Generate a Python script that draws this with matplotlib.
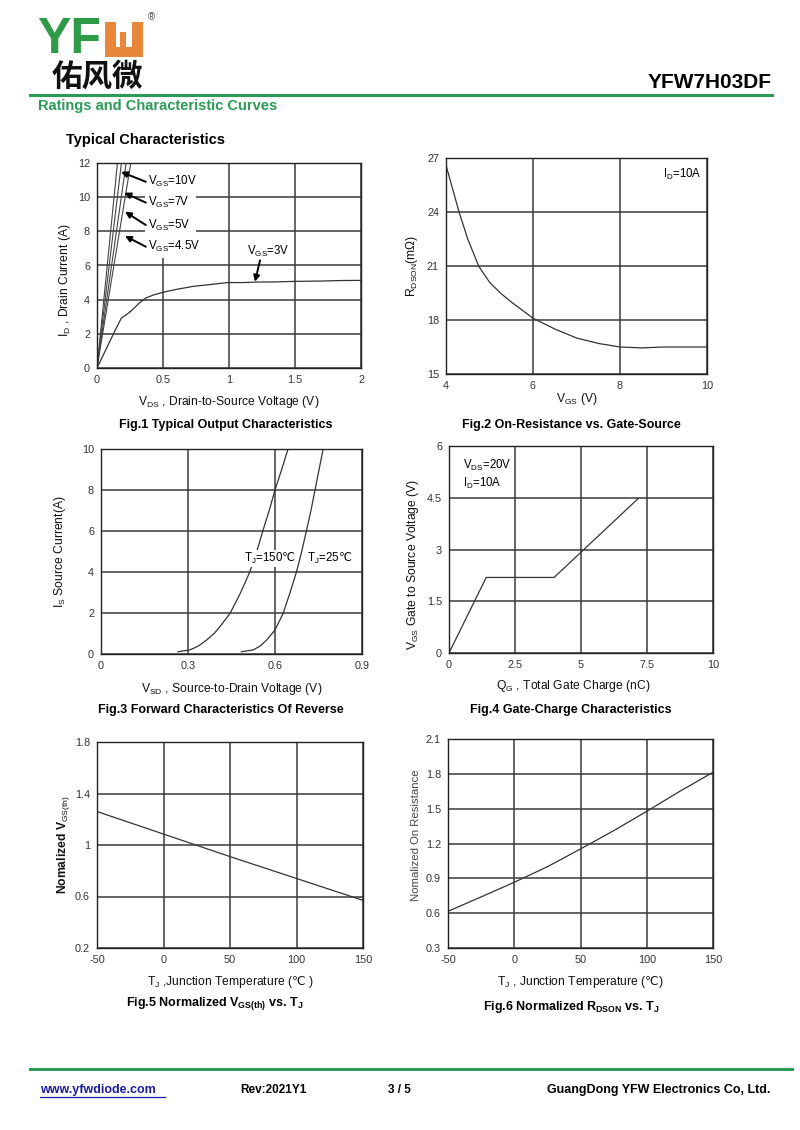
import numpy as np
import matplotlib
matplotlib.use('Agg')
from matplotlib import pyplot as plt
from matplotlib.patches import Rectangle
from matplotlib.lines import Line2D

plt.rcParams['font.family'] = ['Liberation Sans', 'DejaVu Sans']
plt.rcParams['mathtext.fontset'] = 'custom'
plt.rcParams['mathtext.rm'] = 'Liberation Sans'
plt.rcParams['mathtext.it'] = 'Liberation Sans:italic'
plt.rcParams['mathtext.bf'] = 'Liberation Sans:bold'
plt.rcParams['mathtext.sf'] = 'DejaVu Sans'   # only used for the ℃ sign
plt.rcParams['axes.unicode_minus'] = False

# ---- data ----
# Fig.1 output characteristics
vgs_lines = ['10V', '7V', '5V', '4.5V']
vds_steep_end = [0.155, 0.185, 0.221, 0.256]   # VDS where each steep line hits 12 A
id_steep = [0, 12]
vds_3v = [0, 0.05, 0.1, 0.15, 0.185, 0.22, 0.26, 0.32, 0.37, 0.43, 0.5, 0.6, 0.73, 0.85, 0.99, 1.1, 1.21, 1.35, 1.49, 1.7, 1.85, 2.0]
id_3v = [0, 0.8, 1.6, 2.4, 2.93, 3.1, 3.35, 3.8, 4.1, 4.28, 4.43, 4.6, 4.78, 4.88, 5.0, 5.0, 5.03, 5.04, 5.07, 5.09, 5.12, 5.13]

# Fig.2 RDSON vs VGS
vgs_r = [4.0, 4.15, 4.3, 4.5, 4.75, 5.0, 5.25, 5.5, 6.0, 6.5, 7.0, 7.5, 8.0, 8.5, 9.0, 10.0]
rdson = [26.6, 25.3, 24.0, 22.5, 21.0, 20.1, 19.5, 19.0, 18.1, 17.5, 17.0, 16.7, 16.5, 16.45, 16.5, 16.5]

# Fig.3 body diode forward characteristics
vsd_150 = [0.266, 0.306, 0.335, 0.364, 0.39, 0.41, 0.445, 0.48, 0.513, 0.537, 0.559, 0.58, 0.6, 0.623, 0.645]
is_150 = [0.11, 0.2, 0.38, 0.68, 1.0, 1.33, 1.98, 2.95, 4.0, 5.0, 6.05, 7.0, 8.0, 9.0, 10.0]
vsd_25 = [0.484, 0.525, 0.55, 0.571, 0.59, 0.6, 0.628, 0.652, 0.674, 0.692, 0.709, 0.724, 0.738, 0.752, 0.766]
is_25 = [0.11, 0.2, 0.4, 0.68, 1.0, 1.17, 1.98, 3.0, 4.0, 5.0, 6.05, 7.0, 8.0, 9.0, 10.0]

# Fig.4 gate charge
qg = [0, 1.41, 3.98, 7.17]
vgs_q = [0, 2.19, 2.19, 4.48]

# Fig.5 normalized VGS(th)
tj5 = [-50, 0, 50, 100, 150]
vth_n = [1.26, 1.085, 0.91, 0.74, 0.57]

# Fig.6 normalized RDSON
tj6 = [-50, -25, 0, 25, 50, 75, 100, 125, 150]
ron_n = [0.616, 0.74, 0.866, 1.0, 1.153, 1.31, 1.477, 1.65, 1.813]

W, H = 800, 1130
fig = plt.figure(figsize=(8, 11.3), dpi=100)

GREEN = '#2a9a55'
GRID = '#3a3a3a'
TICKC = '#333333'
DEGC = r'$\mathsf{℃}$'


def fx(x):
    return x / W


def fy(y):
    return 1 - y / H


def make_ax(x0, x1, y0, y1, xlim, ylim, xticks, yticks, xtl=None, ytl=None):
    ax = fig.add_axes([fx(x0), fy(y1), (x1 - x0) / W, (y1 - y0) / H])
    ax.set_xlim(*xlim)
    ax.set_ylim(*ylim)
    ax.set_xticks(xticks)
    ax.set_yticks(yticks)
    if xtl is not None:
        ax.set_xticklabels(xtl)
    if ytl is not None:
        ax.set_yticklabels(ytl)
    ax.tick_params(length=0, labelsize=7.8, colors=TICKC, pad=5)
    ax.grid(True, color=GRID, lw=1.1)
    for s in ax.spines.values():
        s.set_color('#222222')
        s.set_linewidth(1.0)
    return ax


# ---- header ----
fig.text(fx(37), fy(40), 'YF', fontsize=36, fontweight='bold', color='#2f9a48',
         va='center', ha='left', family=['Liberation Sans'])
orange = '#e8873a'
for (rx, ry, rw, rh) in [(105, 22, 11, 35), (132, 22, 11, 35), (105, 47, 38, 10), (120, 32, 6, 25)]:
    fig.add_artist(Rectangle((fx(rx), fy(ry + rh)), rw / W, rh / H, transform=fig.transFigure,
                             color=orange, lw=0))
fig.text(fx(148), fy(17), '®', fontsize=7, color='#444444', va='center')
fig.text(fx(52), fy(77), '佑风微', fontsize=22, fontweight='bold', color='#111111',
         va='center', ha='left', family=['Noto Sans CJK SC', 'DejaVu Sans'])
fig.text(fx(772), fy(83), 'YFW7H03DF', fontsize=15, fontweight='bold', ha='right', va='center')
fig.add_artist(Line2D([fx(30), fx(772)], [fy(95), fy(95)], transform=fig.transFigure, color=GREEN, lw=2.2))
fig.text(fx(38), fy(106), 'Ratings and Characteristic Curves', fontsize=10.5, fontweight='bold',
         color=GREEN, va='center')
fig.text(fx(66), fy(140), 'Typical Characteristics', fontsize=10.5, fontweight='bold', va='center')

lab = dict(fontsize=8.7, color='#111111')

# ---- Fig.1 ----
ax1 = make_ax(97, 361, 163, 368, (0, 2), (0, 12), [0, 0.5, 1, 1.5, 2], range(0, 13, 2),
              xtl=['0', '0.5', '1', '1.5', '2'])
# white block behind the VGS labels (hides grid there, like the original)
ax1.add_patch(Rectangle((0.36, 6.45), 0.39, 5.55, facecolor='white', edgecolor='none', zorder=1.8))
for v in vds_steep_end:
    ax1.plot([0, v], id_steep, color='#444444', lw=0.8)
ax1.plot(vds_3v, id_3v, color='#333333', lw=0.9)
tips = [(0.182, 11.48), (0.207, 10.26), (0.212, 9.15), (0.212, 7.73)]
text_y = [10.9, 9.68, 8.37, 7.1]
arr = dict(arrowstyle='-|>', color='black', lw=1.4, mutation_scale=9, shrinkA=0, shrinkB=0)
for name, tip, ty in zip(vgs_lines, tips, text_y):
    ax1.annotate('', xy=tip, xytext=(0.37, ty), arrowprops=arr)
    ax1.text(0.39, ty, r'V$_{\rm GS}$=' + name, fontsize=8.3, va='center', ha='left')
ax1.text(1.134, 6.8, r'V$_{\rm GS}$=3V', fontsize=8.3, va='center', ha='left',
         bbox=dict(facecolor='white', edgecolor='none', pad=1))
ax1.annotate('', xy=(1.197, 5.05), xytext=(1.235, 6.3), arrowprops=arr)
ax1.set_xlabel(r'V$_{\rm DS}$ , Drain-to-Source Voltage (V)', **lab)
ax1.xaxis.set_label_coords(0.5, -0.125)
ax1.set_ylabel(r'I$_{\rm D}$ , Drain Current (A)', **lab)
ax1.yaxis.set_label_coords(-0.09, 0.43)
fig.text(fx(226), fy(425), 'Fig.1 Typical Output Characteristics', fontsize=9, fontweight='bold',
         ha='center', va='center')

# ---- Fig.2 ----
ax2 = make_ax(446, 707, 158, 374, (4, 10), (15, 27), [4, 6, 8, 10], [15, 18, 21, 24, 27])
ax2.plot(vgs_r, rdson, color='#333333', lw=0.9)
ax2.text(8.99, 26.06, r'I$_{\rm D}$=10A', fontsize=8.3, va='center', ha='left')
ax2.set_xlabel(r'V$_{\rm GS}$ (V)', **lab)
ax2.xaxis.set_label_coords(0.5, -0.08)
ax2.set_ylabel(r'R$_{\rm DSON}$(m$\Omega$)', **lab)
ax2.yaxis.set_label_coords(-0.1, 0.5)
fig.text(fx(571), fy(425), 'Fig.2 On-Resistance vs. Gate-Source', fontsize=9, fontweight='bold',
         ha='center', va='center')

# ---- Fig.3 ----
ax3 = make_ax(101, 362, 449, 654, (0, 0.9), (0, 10), [0, 0.3, 0.6, 0.9], range(0, 11, 2),
              xtl=['0', '0.3', '0.6', '0.9'])
ax3.plot(vsd_150, is_150, color='#333333', lw=0.9)
ax3.plot(vsd_25, is_25, color='#333333', lw=0.9)
ax3.text(0.494, 4.67, r'T$_{\rm J}$=150' + DEGC, fontsize=8.3, va='center', ha='left',
         bbox=dict(facecolor='white', edgecolor='none', pad=0.5))
ax3.text(0.709, 4.67, r'T$_{\rm J}$=25' + DEGC, fontsize=8.3, va='center', ha='left',
         bbox=dict(facecolor='white', edgecolor='none', pad=0.5))
ax3.set_xlabel(r'V$_{\rm SD}$ , Source-to-Drain Voltage (V)', **lab)
ax3.xaxis.set_label_coords(0.5, -0.132)
ax3.set_ylabel(r'I$_{\rm S}$ Source Current(A)', **lab)
ax3.yaxis.set_label_coords(-0.126, 0.5)
fig.text(fx(221), fy(710), 'Fig.3 Forward Characteristics Of Reverse', fontsize=9, fontweight='bold',
         ha='center', va='center')

# ---- Fig.4 ----
ax4 = make_ax(449, 713, 446, 653, (0, 10), (0, 6), [0, 2.5, 5, 7.5, 10], [0, 1.5, 3, 4.5, 6],
              xtl=['0', '2.5', '5', '7.5', '10'], ytl=['0', '1.5', '3', '4.5', '6'])
ax4.plot(qg, vgs_q, color='#333333', lw=0.9)
ax4.text(0.54, 5.45, r'V$_{\rm DS}$=20V', fontsize=8.3, va='center', ha='left')
ax4.text(0.54, 4.92, r'I$_{\rm D}$=10A', fontsize=8.3, va='center', ha='left')
ax4.set_xlabel(r'Q$_{\rm G}$ , Total Gate Charge (nC)', **lab)
ax4.xaxis.set_label_coords(0.47, -0.12)
ax4.set_ylabel(r'V$_{\rm GS}$ Gate to Source Voltage (V)', **lab)
ax4.yaxis.set_label_coords(-0.106, 0.43)
fig.text(fx(571), fy(710), 'Fig.4 Gate-Charge Characteristics', fontsize=9, fontweight='bold',
         ha='center', va='center')

# ---- Fig.5 ----
ax5 = make_ax(97, 363, 742, 948, (-50, 150), (0.2, 1.8), range(-50, 151, 50), [0.2, 0.6, 1.0, 1.4, 1.8],
              ytl=['0.2', '0.6', '1', '1.4', '1.8'])
ax5.plot(tj5, vth_n, color='#333333', lw=0.9)
ax5.set_xlabel(r'T$_{\rm J}$ ,Junction Temperature (' + DEGC + ' )', **lab)
ax5.xaxis.set_label_coords(0.5, -0.126)
ax5.set_ylabel(r'Nomalized V$_{\rm GS(th)}$', fontsize=8.7, fontweight='bold', color='#111111')
ax5.yaxis.set_label_coords(-0.094, 0.5)
fig.text(fx(215), fy(1004), r'Fig.5 Normalized V$_{\mathbf{GS(th)}}$ vs. T$_{\mathbf{J}}$', fontsize=9,
         fontweight='bold', ha='center', va='center')

# ---- Fig.6 ----
ax6 = make_ax(448, 713, 739, 948, (-50, 150), (0.3, 2.1), range(-50, 151, 50),
              [0.3, 0.6, 0.9, 1.2, 1.5, 1.8, 2.1],
              ytl=['0.3', '0.6', '0.9', '1.2', '1.5', '1.8', '2.1'])
ax6.plot(tj6, ron_n, color='#333333', lw=0.9)
ax6.set_xlabel(r'T$_{\rm J}$ , Junction Temperature (' + DEGC + ')', **lab)
ax6.xaxis.set_label_coords(0.5, -0.124)
ax6.set_ylabel('Nomalized On Resistance', fontsize=8.2, color='#444444')
ax6.yaxis.set_label_coords(-0.102, 0.54)
fig.text(fx(571), fy(1007), r'Fig.6 Normalized R$_{\mathbf{DSON}}$ vs. T$_{\mathbf{J}}$', fontsize=9,
         fontweight='bold', ha='center', va='center')

# ---- footer ----
fig.add_artist(Line2D([fx(30), fx(792)], [fy(1069), fy(1069)], transform=fig.transFigure, color=GREEN, lw=2.2))
fig.text(fx(40), fy(1090), 'www.yfwdiode.com', fontsize=9, fontweight='bold', color='#1a1aa0', va='center')
fig.add_artist(Line2D([fx(40), fx(165)], [fy(1097), fy(1097)], transform=fig.transFigure, color='#1a1aa0', lw=0.9))
fig.text(fx(240), fy(1090), 'Rev:2021Y1', fontsize=8.5, fontweight='bold', va='center')
fig.text(fx(388), fy(1090), '3 / 5', fontsize=8.5, fontweight='bold', va='center')
fig.text(fx(770), fy(1090), 'GuangDong YFW Electronics Co, Ltd.', fontsize=9, fontweight='bold',
         va='center', ha='right')

fig.savefig('out.png', dpi=100, facecolor='white')
